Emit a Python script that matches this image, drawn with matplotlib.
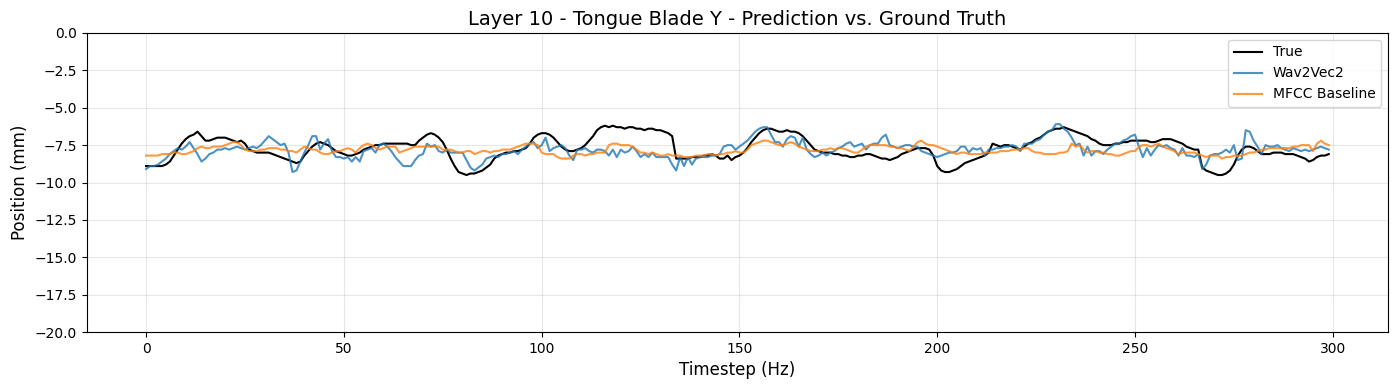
import numpy as np
import matplotlib
matplotlib.use("Agg")
import matplotlib.pyplot as plt

# values, one per timestep (0..299)
true_y = [
    -8.9, -8.9, -8.9, -8.9, -8.9, -8.8, -8.6, -8.2, -7.8, -7.4,
    -7.1, -6.9, -6.8, -6.6, -6.9, -7.2, -7.2, -7.1, -7.0, -7.0,
    -7.0, -7.1, -7.2, -7.3, -7.2, -7.4, -7.8, -7.9, -8.0, -8.0,
    -8.0, -8.0, -8.1, -8.2, -8.3, -8.4, -8.5, -8.6, -8.7, -8.6,
    -8.2, -7.9, -7.6, -7.4, -7.3, -7.4, -7.5, -7.7, -7.9, -8.0,
    -8.1, -8.2, -8.2, -8.1, -8.0, -7.8, -7.7, -7.6, -7.5, -7.5,
    -7.4, -7.4, -7.4, -7.4, -7.4, -7.4, -7.4, -7.5, -7.5, -7.2,
    -7.0, -6.8, -6.7, -6.8, -7.0, -7.3, -7.8, -8.4, -8.9, -9.3,
    -9.4, -9.5, -9.4, -9.4, -9.3, -9.2, -9.0, -8.8, -8.4, -8.2,
    -8.1, -8.0, -8.0, -7.9, -7.9, -7.8, -7.7, -7.4, -7.0, -6.8,
    -6.7, -6.7, -6.8, -7.0, -7.3, -7.6, -7.8, -7.9, -7.9, -7.8,
    -7.7, -7.5, -7.2, -6.9, -6.5, -6.3, -6.2, -6.3, -6.2, -6.3,
    -6.3, -6.4, -6.3, -6.3, -6.4, -6.4, -6.5, -6.4, -6.4, -6.5,
    -6.5, -6.6, -6.7, -6.9, -8.4, -8.4, -8.4, -8.4, -8.3, -8.3,
    -8.3, -8.2, -8.2, -8.1, -8.2, -8.4, -8.4, -8.2, -8.5, -8.3,
    -8.2, -8.0, -7.7, -7.3, -7.0, -6.7, -6.5, -6.4, -6.4, -6.5,
    -6.6, -6.6, -6.5, -6.6, -6.6, -6.7, -6.9, -7.2, -7.5, -7.8,
    -7.9, -8.0, -8.0, -8.0, -8.1, -8.1, -8.2, -8.2, -8.3, -8.3,
    -8.2, -8.2, -8.1, -8.1, -8.2, -8.3, -8.4, -8.4, -8.5, -8.4,
    -8.3, -8.1, -8.0, -7.9, -7.8, -7.7, -7.7, -7.7, -7.8, -8.2,
    -8.9, -9.2, -9.3, -9.3, -9.2, -9.1, -8.9, -8.7, -8.6, -8.5,
    -8.4, -8.3, -8.2, -8.0, -7.4, -7.5, -7.6, -7.5, -7.5, -7.6,
    -7.7, -7.8, -7.6, -7.4, -7.3, -7.1, -7.0, -6.8, -6.6, -6.5,
    -6.4, -6.4, -6.3, -6.4, -6.5, -6.6, -6.7, -6.8, -6.9, -7.1,
    -7.2, -7.4, -7.5, -7.5, -7.5, -7.4, -7.4, -7.3, -7.3, -7.2,
    -7.2, -7.2, -7.2, -7.2, -7.3, -7.3, -7.2, -7.1, -7.1, -7.1,
    -7.2, -7.3, -7.4, -7.6, -7.7, -7.8, -7.8, -9.0, -9.2, -9.3,
    -9.4, -9.5, -9.5, -9.4, -9.2, -8.8, -8.2, -7.8, -7.6, -7.6,
    -7.7, -7.9, -8.1, -8.1, -8.1, -8.0, -8.0, -8.0, -8.1, -8.1,
    -8.1, -8.2, -8.3, -8.4, -8.6, -8.5, -8.3, -8.2, -8.2, -8.1,
]

wav2vec_y = [
    -9.1, -8.9, -8.9, -8.8, -8.6, -8.4, -8.1, -7.9, -7.7, -7.8,
    -7.6, -7.3, -7.7, -8.1, -8.6, -8.4, -8.1, -8.0, -7.8, -7.8,
    -7.7, -7.8, -7.7, -7.6, -7.7, -7.8, -7.7, -7.6, -7.7, -7.5,
    -7.2, -6.9, -7.1, -7.3, -7.5, -7.4, -8.0, -9.3, -9.2, -8.6,
    -8.0, -7.5, -6.9, -6.9, -7.8, -7.4, -7.1, -7.9, -8.3, -8.3,
    -8.4, -8.3, -8.6, -8.3, -8.6, -7.9, -7.8, -7.7, -8.0, -7.5,
    -7.4, -7.6, -7.9, -8.3, -8.6, -8.9, -8.9, -8.9, -8.5, -8.2,
    -8.1, -7.4, -7.6, -7.5, -7.9, -8.0, -7.8, -8.0, -8.0, -8.0,
    -8.0, -8.5, -9.0, -9.2, -9.0, -8.8, -8.4, -8.3, -8.2, -8.3,
    -8.1, -8.1, -8.0, -7.9, -8.1, -7.8, -7.6, -7.4, -7.3, -7.7,
    -7.5, -7.0, -7.9, -7.7, -7.6, -7.5, -7.7, -8.2, -8.5, -7.8,
    -7.8, -7.7, -7.9, -8.0, -7.8, -7.8, -7.9, -8.2, -7.8, -8.3,
    -7.8, -8.0, -7.9, -7.6, -7.9, -8.3, -8.1, -8.3, -8.0, -8.3,
    -8.3, -8.3, -8.3, -8.8, -9.2, -8.3, -8.9, -8.3, -8.8, -8.4,
    -8.3, -8.3, -8.3, -8.2, -8.2, -8.1, -7.6, -7.5, -7.5, -7.8,
    -7.6, -7.4, -7.2, -6.9, -6.6, -6.4, -6.3, -6.3, -6.8, -7.3,
    -7.3, -7.6, -7.1, -6.9, -7.0, -7.6, -7.0, -7.8, -8.1, -8.3,
    -8.2, -8.0, -8.2, -8.0, -7.9, -7.7, -7.6, -7.4, -7.3, -7.6,
    -7.5, -7.4, -7.8, -7.5, -7.4, -7.4, -7.0, -6.8, -7.5, -7.6,
    -7.7, -7.6, -7.5, -7.5, -7.6, -7.6, -7.9, -8.0, -8.1, -8.2,
    -8.3, -8.2, -8.1, -8.0, -8.0, -7.9, -7.6, -7.6, -8.0, -7.7,
    -7.8, -7.7, -8.2, -7.8, -7.8, -7.7, -7.7, -7.6, -7.6, -7.5,
    -7.6, -7.9, -7.4, -7.4, -7.4, -7.2, -7.1, -6.8, -6.6, -6.5,
    -6.1, -6.1, -6.4, -6.6, -7.0, -7.5, -7.4, -8.2, -7.6, -8.2,
    -7.9, -7.9, -8.1, -7.8, -7.6, -7.4, -7.4, -7.2, -7.1, -6.9,
    -6.8, -7.6, -8.3, -7.7, -8.2, -7.8, -7.5, -7.6, -7.5, -7.7,
    -7.8, -8.2, -7.7, -8.2, -8.2, -8.3, -8.1, -9.1, -8.8, -8.2,
    -8.1, -8.1, -8.0, -7.8, -8.0, -7.5, -8.5, -8.4, -6.5, -6.6,
    -7.2, -7.6, -8.1, -7.5, -7.6, -7.6, -7.5, -7.7, -7.8, -7.9,
    -7.7, -7.8, -7.9, -7.8, -7.9, -7.8, -7.7, -7.6, -7.7, -7.8,
]

mfcc_y = [
    -8.2, -8.2, -8.2, -8.2, -8.1, -8.1, -8.1, -8.0, -8.0, -8.1,
    -8.1, -8.0, -7.9, -7.7, -7.6, -7.7, -7.7, -7.6, -7.6, -7.6,
    -7.5, -7.4, -7.3, -7.3, -7.5, -7.8, -7.9, -7.9, -7.9, -7.8,
    -7.8, -7.7, -7.7, -7.7, -7.8, -7.8, -7.9, -7.9, -8.0, -7.8,
    -7.6, -7.7, -7.8, -7.8, -8.0, -8.1, -8.1, -8.0, -7.9, -7.9,
    -7.8, -7.7, -7.8, -8.0, -7.7, -7.5, -7.4, -7.5, -7.7, -7.8,
    -7.7, -7.6, -7.6, -7.6, -8.0, -7.9, -7.8, -7.7, -7.6, -7.6,
    -7.6, -7.6, -7.6, -7.6, -7.6, -7.8, -7.8, -7.8, -7.9, -8.0,
    -8.0, -7.9, -7.9, -8.1, -8.0, -7.9, -7.9, -8.0, -7.9, -7.9,
    -7.8, -7.8, -7.8, -7.7, -7.6, -7.5, -7.4, -7.4, -7.4, -7.5,
    -8.0, -8.1, -8.1, -8.1, -8.3, -8.4, -8.4, -8.4, -8.2, -8.1,
    -8.1, -8.2, -8.1, -8.1, -8.0, -8.0, -8.0, -7.5, -7.4, -7.4,
    -7.5, -7.5, -7.5, -7.6, -7.8, -8.0, -8.0, -8.1, -8.0, -8.1,
    -8.2, -8.2, -8.1, -8.2, -8.2, -8.2, -8.3, -8.3, -8.3, -8.2,
    -8.2, -8.2, -8.1, -8.1, -8.2, -8.1, -8.1, -8.0, -8.0, -7.9,
    -8.0, -8.0, -7.8, -7.5, -7.4, -7.3, -7.2, -7.2, -7.3, -7.4,
    -7.5, -7.5, -7.4, -7.3, -7.4, -7.6, -7.7, -7.8, -7.9, -7.9,
    -7.9, -7.8, -7.8, -7.7, -7.8, -7.7, -7.7, -7.8, -7.9, -8.0,
    -8.0, -7.8, -7.6, -7.5, -7.5, -7.5, -7.5, -7.5, -7.6, -7.6,
    -7.7, -7.7, -7.8, -7.9, -7.6, -7.3, -7.2, -7.4, -7.5, -7.5,
    -7.6, -7.7, -7.8, -7.9, -8.0, -8.1, -8.0, -8.0, -8.1, -8.1,
    -8.1, -8.1, -8.0, -8.0, -8.0, -8.0, -7.9, -7.9, -7.9, -7.8,
    -7.8, -7.8, -7.7, -7.7, -7.9, -8.0, -8.0, -8.1, -8.1, -8.1,
    -8.1, -8.0, -8.0, -7.9, -7.4, -7.6, -7.5, -7.8, -8.0, -7.9,
    -7.9, -8.0, -8.0, -8.1, -8.1, -8.2, -8.2, -8.1, -8.0, -7.9,
    -7.9, -7.6, -7.5, -7.5, -7.6, -7.5, -7.4, -7.6, -7.7, -7.8,
    -7.9, -8.1, -8.0, -8.0, -8.0, -8.0, -8.1, -8.2, -8.3, -8.2,
    -8.2, -8.2, -8.4, -8.3, -8.3, -8.2, -8.2, -8.2, -8.1, -8.0,
    -8.0, -7.9, -7.8, -7.8, -7.7, -7.7, -7.7, -7.7, -7.7, -7.7,
    -7.6, -7.6, -7.5, -7.5, -7.5, -7.9, -7.4, -7.2, -7.4, -7.5,
]

t = np.arange(len(true_y))

fig, ax = plt.subplots(figsize=(13.98, 3.9), dpi=100)
fig.subplots_adjust(left=0.0622, right=0.9928, top=0.9154, bottom=0.1487)

ax.plot(t, true_y, color='black', linewidth=1.5, label='True')
ax.plot(t, wav2vec_y, color='tab:blue', linewidth=1.5, alpha=0.8, label='Wav2Vec2')
ax.plot(t, mfcc_y, color='tab:orange', linewidth=1.5, alpha=0.8, label='MFCC Baseline')

ax.set_ylim(-20, 0)
ax.set_xlabel('Timestep (Hz)', fontsize=12)
ax.set_ylabel('Position (mm)', fontsize=12)
ax.set_title('Layer 10 - Tongue Blade Y - Prediction vs. Ground Truth', fontsize=14)
ax.legend(loc='upper right')
ax.grid(True, alpha=0.3)

fig.savefig('out.png', dpi=100)
